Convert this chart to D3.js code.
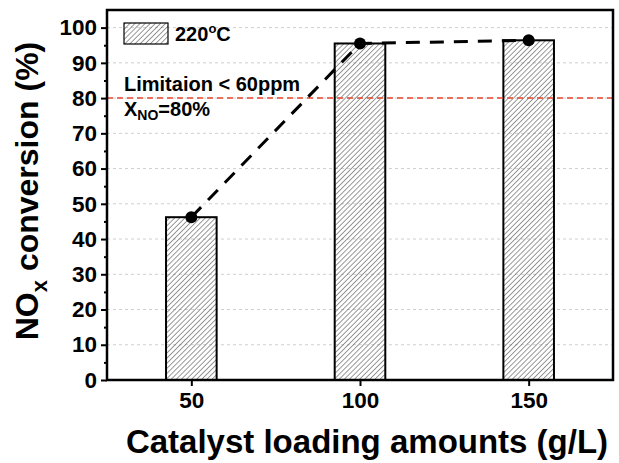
<!DOCTYPE html>
<html>
<head>
<meta charset="utf-8">
<script src="https://cdn.jsdelivr.net/npm/d3@7.9.0/dist/d3.min.js"></script>
<style>
  body { margin: 0; background: #fff; }
  svg text { font-family: "Liberation Sans", Arial, sans-serif; font-weight: bold; fill: #000; }
</style>
</head>
<body>
<div id="chart"></div>
<script>
// data
const loadings = [50, 100, 150];
const conversion = [46.2, 95.5, 96.4];
const yTicks = [0, 10, 20, 30, 40, 50, 60, 70, 80, 90, 100];
const xTicks = [50, 100, 150];
const limitValue = 80;
const seriesName = "220";

const width = 619, height = 463;
const margin = { top: 10, right: 6, bottom: 83, left: 107 };

const svg = d3.select("#chart").append("svg")
  .attr("width", width)
  .attr("height", height);

const x = d3.scaleLinear().domain([25, 175]).range([margin.left, width - margin.right]);
const y = d3.scaleLinear().domain([0, 105]).range([height - margin.bottom, margin.top]);
const barHalf = 7.5;

const defs = svg.append("defs");
defs.append("pattern")
  .attr("id", "hatch")
  .attr("patternUnits", "userSpaceOnUse")
  .attr("width", 3.6)
  .attr("height", 3.6)
  .attr("patternTransform", "rotate(45)")
  .append("line")
  .attr("x1", 0).attr("y1", 0)
  .attr("x2", 0).attr("y2", 3.6)
  .attr("stroke", "#444")
  .attr("stroke-width", 1.1);

// grid lines
svg.append("g")
  .selectAll("line")
  .data(yTicks.filter(d => d > 0))
  .enter().append("line")
  .attr("x1", x(25)).attr("x2", x(175))
  .attr("y1", d => y(d)).attr("y2", d => y(d))
  .attr("stroke", "#cfcfcf")
  .attr("stroke-width", 1)
  .attr("stroke-dasharray", "3,3");

// bars
svg.append("g")
  .selectAll("rect")
  .data(loadings)
  .enter().append("rect")
  .attr("x", d => x(d - barHalf))
  .attr("width", d => x(d + barHalf) - x(d - barHalf))
  .attr("y", (d, i) => y(conversion[i]))
  .attr("height", (d, i) => y(0) - y(conversion[i]))
  .attr("fill", "url(#hatch)")
  .attr("stroke", "#000")
  .attr("stroke-width", 2);

// limit line
svg.append("line")
  .attr("x1", x(25)).attr("x2", x(175))
  .attr("y1", y(limitValue)).attr("y2", y(limitValue))
  .attr("stroke", "#e8472e")
  .attr("stroke-width", 1.5)
  .attr("stroke-dasharray", "6,4");

// dashed trend line + points
const pts = loadings.map((d, i) => [d, conversion[i]]);
svg.append("path")
  .datum(pts)
  .attr("d", d3.line().x(d => x(d[0])).y(d => y(d[1])))
  .attr("fill", "none")
  .attr("stroke", "#000")
  .attr("stroke-width", 3)
  .attr("stroke-dasharray", "14,10");

svg.append("g")
  .selectAll("circle")
  .data(pts)
  .enter().append("circle")
  .attr("cx", d => x(d[0]))
  .attr("cy", d => y(d[1]))
  .attr("r", 6)
  .attr("fill", "#000");

// axes
const yAxis = svg.append("g")
  .attr("transform", `translate(${margin.left},0)`)
  .call(d3.axisLeft(y).tickValues(yTicks).tickSize(6).tickPadding(4).tickFormat(d3.format("d")));
const yMinor = svg.append("g")
  .attr("transform", `translate(${margin.left},0)`)
  .call(d3.axisLeft(y).tickValues(d3.range(5, 105, 10)).tickSize(3).tickFormat(""));

const xAxis = svg.append("g")
  .attr("transform", `translate(0,${height - margin.bottom})`)
  .call(d3.axisBottom(x).tickValues(xTicks).tickSize(6).tickPadding(6));

[yAxis, xAxis, yMinor].forEach(g => {
  g.attr("font-size", null).attr("font-family", null);
  g.selectAll("line").attr("stroke", "#000").attr("stroke-width", 2);
  g.select(".domain").remove();
});
yAxis.selectAll("text").style("font-size", "22.5px");
xAxis.selectAll("text").style("font-size", "22.5px");

// frame
svg.append("rect")
  .attr("x", x(25)).attr("y", y(105))
  .attr("width", x(175) - x(25))
  .attr("height", y(0) - y(105))
  .attr("fill", "none")
  .attr("stroke", "#000")
  .attr("stroke-width", 2.5);

// legend
svg.append("rect")
  .attr("x", 124).attr("y", 23)
  .attr("width", 44).attr("height", 21)
  .attr("fill", "url(#hatch)")
  .attr("stroke", "#000")
  .attr("stroke-width", 1.2);
const leg = svg.append("text").attr("x", 175).attr("y", 41).style("font-size", "20px");
leg.append("tspan").text(seriesName);
leg.append("tspan").style("font-size", "13px").attr("dy", -8).text("o");
leg.append("tspan").attr("dy", 8).text("C");

// annotation
svg.append("text").attr("x", 124).attr("y", 91).style("font-size", "20px").text("Limitaion < 60ppm");
const xno = svg.append("text").attr("x", 124).attr("y", 116).style("font-size", "20px");
xno.append("tspan").text("X");
xno.append("tspan").style("font-size", "14px").attr("dy", 4).text("NO");
xno.append("tspan").attr("dy", -4).text("=80%");

// axis titles
svg.append("text")
  .attr("x", 367)
  .attr("y", 453)
  .attr("text-anchor", "middle")
  .style("font-size", "33px")
  .text("Catalyst loading amounts (g/L)");

const yt = svg.append("text")
  .attr("transform", `translate(38,191) rotate(-90)`)
  .attr("text-anchor", "middle")
  .style("font-size", "32px");
yt.append("tspan").text("NO");
yt.append("tspan").style("font-size", "22px").attr("dy", 9).text("x");
yt.append("tspan").attr("dy", -9).text(" conversion (%)");
</script>
</body>
</html>
